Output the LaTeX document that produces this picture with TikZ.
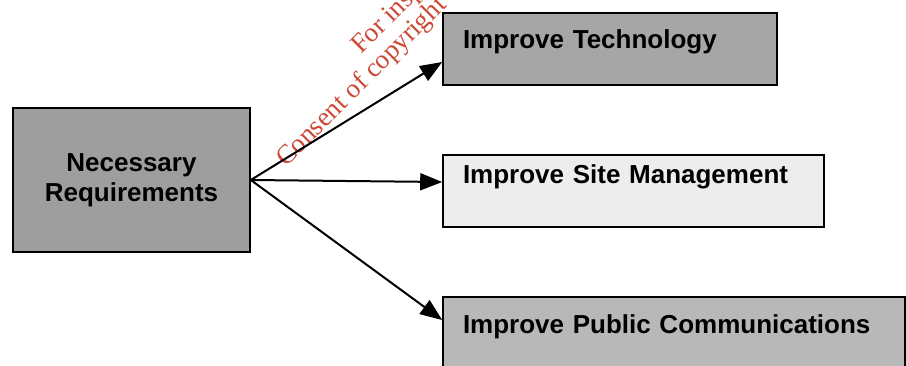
\documentclass[tikz,border=0pt]{standalone}
\usepackage{fontspec}
\setmainfont{Liberation Sans}
\newfontfamily\wmfont{Liberation Serif}
\usetikzlibrary{arrows.meta}
\definecolor{wmred}{RGB}{205,72,52}
\begin{document}
\begin{tikzpicture}[x=1pt,y=1pt,
  box/.style={draw=black, line width=1.6pt, inner ysep=0pt, inner xsep=20pt,
    minimum height=72pt, align=left, font=\fontsize{26}{30}\selectfont\bfseries},
  onerow/.style={text height=18.6pt},
  conn/.style={line width=2pt, -{Triangle[length=22pt,width=17pt]}},
  wm/.style={text=wmred, font=\wmfont\fontsize{27}{30}\selectfont, rotate=45,
    anchor=base west, inner sep=0pt}]
\useasboundingbox (0,0) rectangle (906,365);
\clip (0,0) rectangle (906,365);
\node[wm] (wm1) at (361,310) {For insp};
\node[wm] (wm2) at (286,197) {Consent of copyright o};
\node[box, fill=black!38, text width=197pt, align=center, minimum height=144pt] (nr) at (131.5,185) {Necessary\\Requirements};
\node[box, onerow, fill=black!35, text width=294pt, text depth=19.4pt] (tech) at (610,316) {Improve Technology};
\node[box, onerow, fill=black!7, text width=341pt, text depth=33.4pt] (site) at (633.5,174) {Improve Site Management};
\node[box, onerow, fill=black!28, text width=422pt, text depth=17.4pt] (pub) at (674,32) {Improve Public Communications};
\draw[conn] (nr.east) -- ([yshift=-13pt]tech.west);
\draw[conn] (nr.east) -- ([yshift=9pt]site.west);
\draw[conn] (nr.east) -- ([yshift=13pt]pub.west);
\end{tikzpicture}
\end{document}
